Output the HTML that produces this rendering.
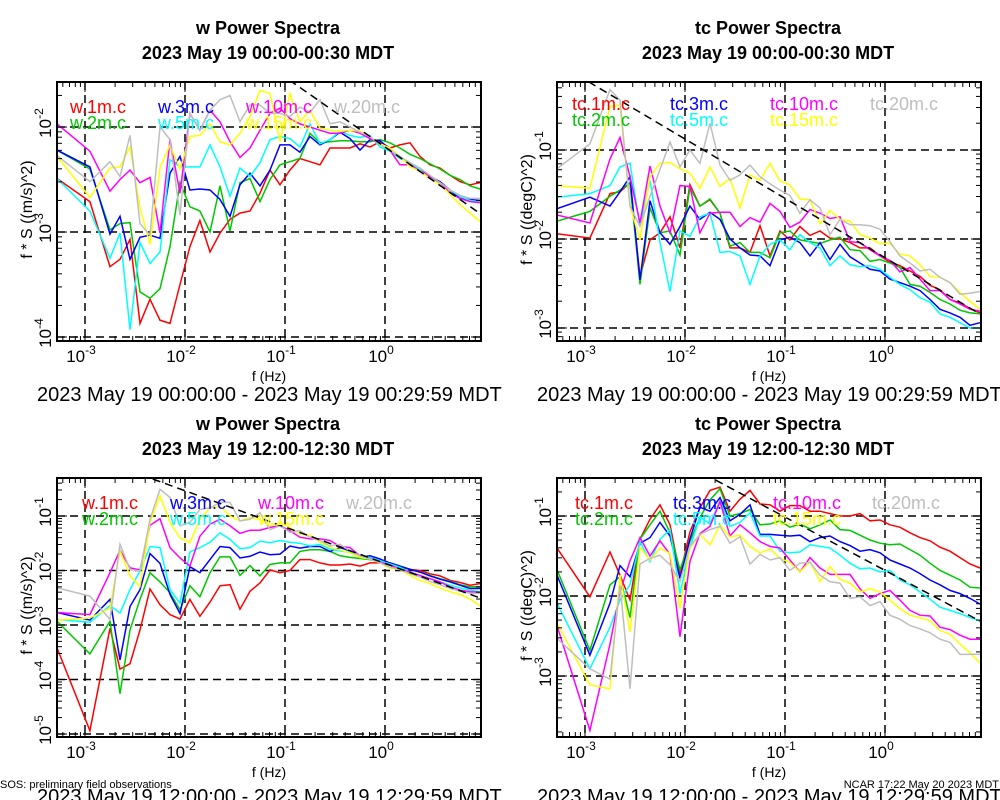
<!DOCTYPE html>
<html><head><meta charset="utf-8">
<style>
html,body{margin:0;padding:0;background:#fff;}
svg{display:block;font-family:"Liberation Sans",Arial,sans-serif;}
</style></head>
<body>
<svg id="chart" width="1000" height="800" viewBox="0 0 1000 800" xmlns="http://www.w3.org/2000/svg">
<rect x="0" y="0" width="1000" height="800" fill="#fff"/>
<text x="0" y="788" font-size="11">SOS: preliminary field observations</text>
<text x="999" y="788" font-size="11" text-anchor="end">NCAR 17:22 May 20 2023 MDT</text>
</svg>
<script>
// shared frequencies (Hz)
const freqs = [0.000525,0.00112,0.00178,0.00224,0.00282,0.00355,0.00447,0.00562,0.00708,0.00891,0.0112,0.0141,0.0178,0.0224,0.0282,0.0355,0.0447,0.0562,0.0708,0.0891,0.112,0.141,0.178,0.224,0.282,0.355,0.447,0.562,0.708,0.891,1.12,1.41,1.78,2.24,2.82,3.55,4.47,5.62,7.08,8.91];
const heights = ["1m","2m","3m","5m","10m","15m","20m"];
// log10(f*S) values, w top panel (00:00-00:30)
const wAm1 = [-2.49,-2.71,-3.33,-3.26,-3.07,-3.87,-3.64,-3.84,-3.87,-3.5,-3.14,-2.89,-3.19,-3.01,-2.88,-2.82,-2.8,-2.63,-2.41,-2.55,-2.41,-2.30,-2.33,-2.36,-2.2,-2.2,-2.2,-2.16,-2.19,-2.14,-2.2,-2.17,-2.15,-2.28,-2.36,-2.39,-2.46,-2.52,-2.55,-2.53];
const wAm2 = [-2.22,-2.40,-2.98,-2.92,-2.91,-3.57,-3.63,-3.54,-3.14,-2.53,-2.76,-2.80,-3.0,-2.56,-2.99,-2.53,-2.49,-2.71,-2.50,-2.36,-2.33,-2.3,-2.06,-2.15,-2.14,-2.13,-2.13,-2.14,-2.14,-2.12,-2.15,-2.2,-2.26,-2.3,-2.35,-2.4,-2.46,-2.5,-2.56,-2.59];
const wAm3 = [-2.22,-2.38,-3.02,-2.85,-3.26,-3.05,-3.03,-3.06,-2.44,-2.28,-2.6,-2.59,-2.6,-2.69,-2.85,-2.55,-2.44,-2.56,-2.41,-2.17,-2.17,-2.24,-2.09,-2.17,-2.12,-2.05,-2.11,-2.22,-2.12,-2.13,-2.21,-2.28,-2.36,-2.41,-2.47,-2.52,-2.6,-2.68,-2.69,-2.7];
const wAm5 = [-2.49,-2.8,-3.25,-3.01,-3.93,-3.1,-3.3,-3.19,-2.31,-2.38,-2.38,-2.38,-2.17,-2.38,-2.66,-2.39,-2.47,-2.34,-2.12,-2.09,-2.11,-2.19,-1.97,-2.16,-2.12,-2.04,-2.08,-2.1,-2.08,-2.19,-2.23,-2.3,-2.34,-2.41,-2.49,-2.53,-2.6,-2.66,-2.7,-2.71];
const wAm10 = [-1.97,-2.23,-2.61,-2.5,-2.41,-2.53,-2.48,-3.01,-2.12,-2.63,-1.87,-2.03,-1.84,-1.95,-2.14,-2.29,-2.2,-2.03,-1.87,-1.82,-1.92,-1.97,-2.0,-2.03,-2.06,-2.06,-2.03,-2.06,-2.11,-2.16,-2.22,-2.36,-2.36,-2.42,-2.47,-2.53,-2.63,-2.68,-2.71,-2.72];
const wAm15 = [-2.28,-2.67,-2.39,-2.38,-2.19,-2.77,-3.12,-2.39,-2.17,-2.4,-2.09,-2.08,-1.97,-2.14,-2.17,-2.06,-1.9,-1.65,-1.68,-2.14,-1.68,-1.95,-1.84,-2.01,-2.03,-2.04,-2.03,-2.04,-2.09,-2.16,-2.2,-2.28,-2.38,-2.42,-2.49,-2.55,-2.64,-2.74,-2.82,-2.9];
const wAm20 = [-2.27,-2.52,-2.33,-2.47,-2.08,-2.92,-3.03,-2.0,-2.12,-2.84,-1.87,-2.03,-1.84,-1.74,-1.7,-1.95,-1.79,-1.79,-1.87,-1.87,-1.9,-1.81,-1.86,-1.74,-1.97,-1.95,-2.0,-2.05,-2.09,-2.17,-2.22,-2.28,-2.34,-2.39,-2.46,-2.53,-2.6,-2.65,-2.68,-2.68];
// tc top panel
const tcAm1 = [-1.94,-1.99,-1.49,-1.47,-1.37,-2.42,-2.01,-1.93,-1.75,-2.1,-1.39,-1.63,-1.56,-1.71,-2.1,-2.1,-2.15,-1.85,-2.19,-1.91,-2.01,-1.86,-1.96,-1.91,-1.99,-2.0,-2.04,-2.1,-2.1,-2.19,-2.26,-2.3,-2.36,-2.42,-2.52,-2.57,-2.68,-2.72,-2.78,-2.83];
const tcAm2 = [-1.8,-1.69,-1.52,-1.45,-1.37,-2.51,-1.65,-1.93,-1.91,-2.18,-1.42,-1.63,-1.55,-1.71,-2.08,-2.04,-2.15,-2.15,-2.21,-1.93,-1.91,-2.01,-2.03,-2.05,-2.01,-1.98,-2.12,-2.13,-2.25,-2.23,-2.27,-2.32,-2.51,-2.53,-2.6,-2.68,-2.73,-2.8,-2.83,-2.84];
const tcAm3 = [-1.66,-1.53,-1.63,-1.47,-1.3,-2.46,-1.57,-1.93,-2.06,-1.86,-1.63,-1.78,-1.7,-1.78,-2.0,-2.1,-2.18,-2.19,-2.3,-2.01,-1.98,-2.04,-2.19,-2.04,-2.23,-2.06,-2.2,-2.27,-2.34,-2.36,-2.45,-2.49,-2.53,-2.58,-2.68,-2.79,-2.83,-2.88,-2.97,-2.94];
const tcAm5 = [-1.53,-1.49,-1.4,-1.19,-1.15,-1.86,-1.34,-2.04,-2.59,-1.91,-1.97,-1.75,-1.71,-2.15,-2.14,-2.19,-2.51,-2.19,-2.06,-2.01,-2.12,-1.95,-2.04,-2.1,-2.3,-2.19,-2.29,-2.31,-2.3,-2.34,-2.43,-2.51,-2.57,-2.66,-2.71,-2.84,-2.88,-2.94,-3.0,-3.0];
const tcAm10 = [-1.73,-1.82,-1.1,-0.86,-1.3,-1.82,-1.18,-1.63,-1.93,-1.4,-1.41,-1.93,-1.71,-1.7,-1.7,-1.86,-1.76,-1.81,-1.6,-1.69,-1.87,-1.81,-1.67,-1.71,-1.77,-1.75,-2.03,-2.04,-2.12,-2.19,-2.24,-2.37,-2.32,-2.45,-2.58,-2.58,-2.68,-2.73,-2.79,-2.81];
const tcAm15 = [-1.4,-1.43,-0.51,-0.5,-1.63,-2.01,-1.3,-1.15,-1.14,-1.21,-1.26,-1.43,-1.19,-1.41,-1.32,-1.65,-1.28,-1.34,-1.15,-1.35,-1.39,-1.55,-1.56,-1.83,-1.68,-1.78,-1.8,-1.95,-1.99,-2.05,-2.05,-2.17,-2.19,-2.29,-2.42,-2.43,-2.49,-2.6,-2.7,-2.79];
const tcAm20 = [-1.21,-0.93,-0.32,-0.44,-1.63,-1.86,-1.52,-1.22,-0.91,-1.19,-1.0,-1.15,-0.7,-1.17,-1.34,-1.28,-1.17,-1.3,-1.38,-1.45,-1.51,-1.71,-1.56,-1.65,-1.95,-1.78,-1.84,-1.84,-1.85,-1.89,-2.03,-2.19,-2.27,-2.36,-2.34,-2.43,-2.49,-2.62,-2.61,-2.59];
// w bottom panel (12:00-12:30)
const wPm1 = [-3.42,-4.94,-3.06,-3.81,-3.71,-3.09,-2.34,-2.63,-2.81,-2.89,-2.53,-2.84,-2.58,-2.28,-2.26,-2.71,-2.38,-2.23,-1.99,-2.04,-2.0,-1.8,-1.8,-1.86,-1.9,-1.9,-1.88,-1.92,-1.86,-1.86,-1.88,-1.94,-1.98,-2.0,-2.06,-2.1,-2.18,-2.22,-2.27,-2.24];
const wPm2 = [-2.93,-3.53,-2.93,-4.26,-3.09,-2.53,-2.04,-2.21,-2.41,-2.72,-2.28,-2.48,-2.04,-1.75,-1.75,-2.09,-1.91,-2.1,-1.89,-1.86,-1.86,-1.65,-1.62,-1.62,-1.65,-1.73,-1.76,-1.78,-1.8,-1.84,-1.86,-1.92,-1.98,-2.03,-2.09,-2.15,-2.2,-2.26,-2.3,-2.3];
const wPm3 = [-2.77,-2.91,-2.53,-3.64,-2.66,-2.35,-1.69,-1.87,-2.44,-2.79,-1.93,-2.04,-1.8,-1.56,-1.58,-1.77,-1.74,-1.66,-1.71,-1.7,-1.55,-1.59,-1.56,-1.56,-1.65,-1.58,-1.64,-1.76,-1.73,-1.79,-1.86,-1.92,-1.98,-2.03,-2.1,-2.16,-2.21,-2.27,-2.33,-2.33];
const wPm5 = [-2.9,-2.95,-2.64,-2.78,-2.35,-2.01,-1.56,-1.58,-2.35,-2.6,-1.66,-1.58,-1.48,-1.31,-1.43,-1.6,-1.58,-1.46,-1.49,-1.45,-1.48,-1.5,-1.55,-1.52,-1.61,-1.64,-1.67,-1.73,-1.76,-1.82,-1.88,-1.94,-2.03,-2.09,-2.15,-2.21,-2.27,-2.32,-2.36,-2.39];
const wPm10 = [-2.77,-2.81,-2.04,-1.63,-1.95,-1.99,-1.17,-1.05,-1.58,-1.77,-1.92,-1.37,-1.15,-1.06,-1.18,-1.32,-1.26,-1.26,-1.21,-1.18,-1.27,-1.39,-1.42,-1.42,-1.45,-1.56,-1.58,-1.73,-1.78,-1.85,-1.9,-1.98,-2.03,-2.09,-2.15,-2.21,-2.3,-2.36,-2.39,-2.4];
const wPm15 = [-2.91,-2.87,-2.69,-1.64,-2.1,-2.29,-1.12,-0.63,-1.12,-1.4,-1.49,-1.06,-0.85,-0.82,-1.0,-1.09,-1.03,-1.06,-1.18,-1.12,-1.21,-1.33,-1.35,-1.48,-1.58,-1.62,-1.68,-1.76,-1.79,-1.86,-1.96,-1.98,-2.09,-2.18,-2.24,-2.32,-2.39,-2.44,-2.52,-2.65];
const wPm20 = [-2.32,-2.47,-2.9,-1.52,-1.98,-2.01,-1.06,-0.51,-0.66,-1.18,-1.12,-0.88,-0.85,-0.75,-0.75,-1.09,-1.06,-0.94,-1.25,-1.18,-1.3,-1.27,-1.39,-1.45,-1.55,-1.52,-1.64,-1.73,-1.79,-1.86,-1.94,-1.98,-2.06,-2.12,-2.2,-2.26,-2.33,-2.38,-2.42,-2.42];
// tc bottom panel
const tcPm1 = [-1.4,-2.01,-1.45,-1.74,-2.05,-1.29,-1.04,-0.86,-1.11,-1.74,-1.2,-0.9,-0.68,-0.64,-0.94,-0.79,-0.68,-0.85,-0.86,-0.94,-0.87,-0.87,-0.94,-0.94,-0.97,-1.0,-1.0,-0.97,-1.06,-1.05,-1.11,-1.14,-1.21,-1.27,-1.31,-1.39,-1.44,-1.52,-1.6,-1.65];
const tcPm2 = [-1.67,-2.68,-1.86,-1.76,-2.27,-1.29,-1.11,-0.94,-1.21,-1.67,-1.32,-1.02,-0.8,-0.66,-1.0,-0.97,-0.92,-1.11,-1.1,-1.06,-1.14,-1.1,-1.16,-1.11,-1.05,-1.17,-1.18,-1.24,-1.3,-1.34,-1.36,-1.35,-1.42,-1.49,-1.59,-1.68,-1.74,-1.8,-1.89,-1.9];
const tcPm3 = [-1.74,-2.74,-2.09,-1.62,-1.76,-1.34,-1.27,-1.08,-1.25,-1.78,-1.29,-0.89,-0.94,-0.77,-1.06,-0.98,-0.86,-1.23,-1.23,-1.24,-1.25,-1.24,-1.32,-1.27,-1.25,-1.32,-1.37,-1.44,-1.42,-1.46,-1.55,-1.6,-1.65,-1.72,-1.8,-1.86,-1.93,-1.97,-2.03,-2.1];
const tcPm5 = [-2.09,-2.91,-2.39,-2.05,-1.86,-1.32,-1.57,-1.29,-1.17,-1.97,-1.4,-1.01,-1.1,-0.81,-1.13,-1.08,-0.96,-1.25,-1.25,-1.44,-1.46,-1.45,-1.36,-1.38,-1.4,-1.49,-1.59,-1.66,-1.65,-1.7,-1.68,-1.8,-1.86,-1.95,-2.04,-2.14,-2.18,-2.22,-2.27,-2.31];
const tcPm10 = [-2.37,-3.68,-2.6,-1.95,-1.56,-1.27,-1.5,-1.31,-1.48,-2.51,-1.57,-1.22,-1.13,-0.82,-1.25,-1.11,-1.21,-1.32,-1.38,-1.4,-1.55,-1.7,-1.52,-1.65,-1.73,-1.73,-1.73,-1.91,-2.03,-1.97,-1.93,-2.05,-2.18,-2.24,-2.25,-2.39,-2.42,-2.49,-2.54,-2.54];
const tcPm15 = [-2.34,-3.11,-3.16,-1.74,-2.45,-1.39,-1.55,-1.4,-1.47,-2.16,-1.4,-1.23,-1.36,-1.11,-1.26,-1.24,-1.38,-1.46,-1.41,-1.53,-1.58,-1.7,-1.57,-1.82,-1.63,-1.79,-1.84,-1.95,-1.91,-1.95,-2.05,-2.16,-2.24,-2.27,-2.31,-2.43,-2.48,-2.6,-2.71,-2.84];
const tcPm20 = [-2.53,-2.91,-3.04,-1.86,-3.16,-1.6,-1.53,-1.49,-1.61,-1.82,-1.38,-1.23,-1.17,-1.13,-1.34,-1.26,-1.6,-1.48,-1.55,-1.52,-1.68,-1.59,-1.58,-1.74,-1.82,-1.84,-2.03,-2.01,-2.12,-2.07,-2.24,-2.29,-2.37,-2.41,-2.46,-2.54,-2.58,-2.73,-2.73,-2.73];
// -2/3 reference line intercepts (log10 at 1 Hz) per panel
const refIntercepts = [-2.19,-2.21,-1.87,-1.68];
const refSlope = -2/3;
const xTickExps = [-3,-2,-1,0];

const NS = "http://www.w3.org/2000/svg";
const svg = document.getElementById("chart");
const colors = ["#ff0000","#00c800","#0000ff","#00ffff","#ff00ff","#ffff00","#bebebe"];

function el(tag, attrs, parent){
  const e = document.createElementNS(NS, tag);
  for (const k in attrs) e.setAttribute(k, attrs[k]);
  (parent||svg).appendChild(e);
  return e;
}

const panels = [
  {key:"w-am", var:"w", title:"w Power Spectra", sub:"2023 May 19 00:00-00:30 MDT", cx:268, box:[57,82,481,341], ylog:[-4.038,-1.571], yExps:[-2,-3,-4], ylab:"f * S ((m/s)^2)", series:[wAm1,wAm2,wAm3,wAm5,wAm10,wAm15,wAm20], legY:113, legX:[70,158,246,334], range:"2023 May 19 00:00:00 - 2023 May 19 00:29:59 MDT", rangeY:401},
  {key:"tc-am", var:"tc", title:"tc Power Spectra", sub:"2023 May 19 00:00-00:30 MDT", cx:768, box:[557,82,981,341], ylog:[-3.146,-0.236], yExps:[-1,-2,-3], ylab:"f * S ((degC)^2)", series:[tcAm1,tcAm2,tcAm3,tcAm5,tcAm10,tcAm15,tcAm20], legY:110, legX:[572,670,770,870], range:"2023 May 19 00:00:00 - 2023 May 19 00:29:59 MDT", rangeY:401},
  {key:"w-pm", var:"w", title:"w Power Spectra", sub:"2023 May 19 12:00-12:30 MDT", cx:268, box:[57,478,481,737], ylog:[-5.055,-0.303], yExps:[-1,-2,-3,-4,-5], ylab:"f * S ((m/s)^2)", series:[wPm1,wPm2,wPm3,wPm5,wPm10,wPm15,wPm20], legY:509, legX:[82,170,258,346], range:"2023 May 19 12:00:00 - 2023 May 19 12:29:59 MDT", rangeY:803},
  {key:"tc-pm", var:"tc", title:"tc Power Spectra", sub:"2023 May 19 12:00-12:30 MDT", cx:768, box:[557,478,981,737], ylog:[-3.7625,-0.525], yExps:[-1,-2,-3], ylab:"f * S ((degC)^2)", series:[tcPm1,tcPm2,tcPm3,tcPm5,tcPm10,tcPm15,tcPm20], legY:509, legX:[575,673,773,872], range:"2023 May 19 12:00:00 - 2023 May 19 12:29:59 MDT", rangeY:803}
];

panels.forEach((p, pi) => {
  const [x0,y0,x1,y1] = p.box;
  const lx0 = -3.28, lx1 = 0.96;
  const xs = f => x0 + (Math.log10(f) - lx0) / (lx1 - lx0) * (x1 - x0);
  const xl = l => x0 + (l - lx0) / (lx1 - lx0) * (x1 - x0);
  const yl = l => y1 - (l - p.ylog[0]) / (p.ylog[1] - p.ylog[0]) * (y1 - y0);

  const g = el("g", {});
  
  

  const t1 = el("text", {x:p.cx, y:y0-48, "font-size":18, "font-weight":"bold", "text-anchor":"middle"}, g);
  t1.textContent = p.title;
  
  
  const t2 = el("text", {x:p.cx, y:y0-23, "font-size":18, "font-weight":"bold", "text-anchor":"middle"}, g);
  t2.textContent = p.sub;
  
  

  const cid = "clip" + pi;
  const cp = el("clipPath", {id:cid}, g);
  el("rect", {x:x0, y:y0, width:x1-x0, height:y1-y0}, cp);

  const plot = el("g", {"clip-path":"url(#"+cid+")"}, g);
  
  

  xTickExps.forEach(e => {
    const gl = el("line", {x1:xl(e), x2:xl(e), y1:y0, y2:y1, stroke:"#000", "stroke-width":1.5, "stroke-dasharray":"8,5"}, plot);
    
    
  });
  p.yExps.forEach(e => {
    const gl = el("line", {x1:x0, x2:x1, y1:yl(e), y2:yl(e), stroke:"#000", "stroke-width":1.5, "stroke-dasharray":"8,5"}, plot);
    
    
  });

  p.series.forEach((vals, si) => {
    const pts = vals.map((v, i) => xs(freqs[i]).toFixed(1) + "," + yl(v).toFixed(1)).join(" ");
    const pl = el("polyline", {points:pts, fill:"none", stroke:colors[si], "stroke-width":1.5, "stroke-linejoin":"miter"}, plot);
    
    
  });

  const a = refIntercepts[pi];
  const ref = el("line", {x1:xl(-3.3), y1:yl(a + refSlope*(-3.3)), x2:xl(0.95), y2:yl(a + refSlope*0.95), stroke:"#000", "stroke-width":1.5, "stroke-dasharray":"8,5"}, plot);
  
  

  const fr = el("rect", {x:x0, y:y0, width:x1-x0, height:y1-y0, fill:"none", stroke:"#000", "stroke-width":2}, g);
  
  

  const tk = el("g", {stroke:"#000", "stroke-width":1}, g);
  
  
  for (let e = -4; e <= 0; e++) {
    for (let m = 1; m <= 9; m++) {
      const l = e + Math.log10(m);
      if (l < lx0 || l > lx1) continue;
      const len = m === 1 ? 10 : 5;
      const X = xl(l);
      el("line", {x1:X, x2:X, y1:y1, y2:y1-len}, tk);
      el("line", {x1:X, x2:X, y1:y0, y2:y0+len}, tk);
    }
  }
  for (let e = -6; e <= 0; e++) {
    for (let m = 1; m <= 9; m++) {
      const l = e + Math.log10(m);
      if (l < p.ylog[0] || l > p.ylog[1]) continue;
      const len = m === 1 ? 10 : 5;
      const Y = yl(l);
      el("line", {x1:x0, x2:x0+len, y1:Y, y2:Y}, tk);
      el("line", {x1:x1, x2:x1-len, y1:Y, y2:Y}, tk);
    }
  }

  xTickExps.forEach(e => {
    const t = el("text", {x:xl(e)-4, y:y1+21, "font-size":17, "text-anchor":"middle"}, g);
    
    
    t.appendChild(document.createTextNode("10"));
    const s = el("tspan", {dy:-8, "font-size":12}, t);
    s.textContent = String(e);
  });
  p.yExps.forEach(e => {
    const Y = yl(e);
    const t = el("text", {x:0, y:0, "font-size":17, "text-anchor":"middle", transform:"translate(" + (x0-6) + "," + (Y-4) + ") rotate(-90)"}, g);
    
    
    t.appendChild(document.createTextNode("10"));
    const s = el("tspan", {dy:-8, "font-size":12}, t);
    s.textContent = String(e);
  });

  const yc = (y0 + y1) / 2;
  const yt = el("text", {x:0, y:0, "font-size":16, "text-anchor":"middle", transform:"translate(" + (x0-25) + "," + (yc-2) + ") rotate(-90)"}, g);
  yt.textContent = p.ylab;
  
  

  const xt = el("text", {x:(x0+x1)/2, y:y1+40, "font-size":14, "text-anchor":"middle"}, g);
  xt.textContent = "f (Hz)";
  
  

  const rt = el("text", {x:x0-20, y:p.rangeY, "font-size":20}, g);
  rt.textContent = p.range;
  
  

  const legOrder = [[0,1],[2,3],[4,5],[6]];
  legOrder.forEach((col, ci) => {
    col.forEach((si, ri) => {
      const lt = el("text", {x:p.legX[ci], y:p.legY + ri*16, "font-size":18, fill:colors[si]}, g);
      lt.textContent = p.var + "." + heights[si] + ".c";
      
      
    });
  });
});
</script>
</body></html>
